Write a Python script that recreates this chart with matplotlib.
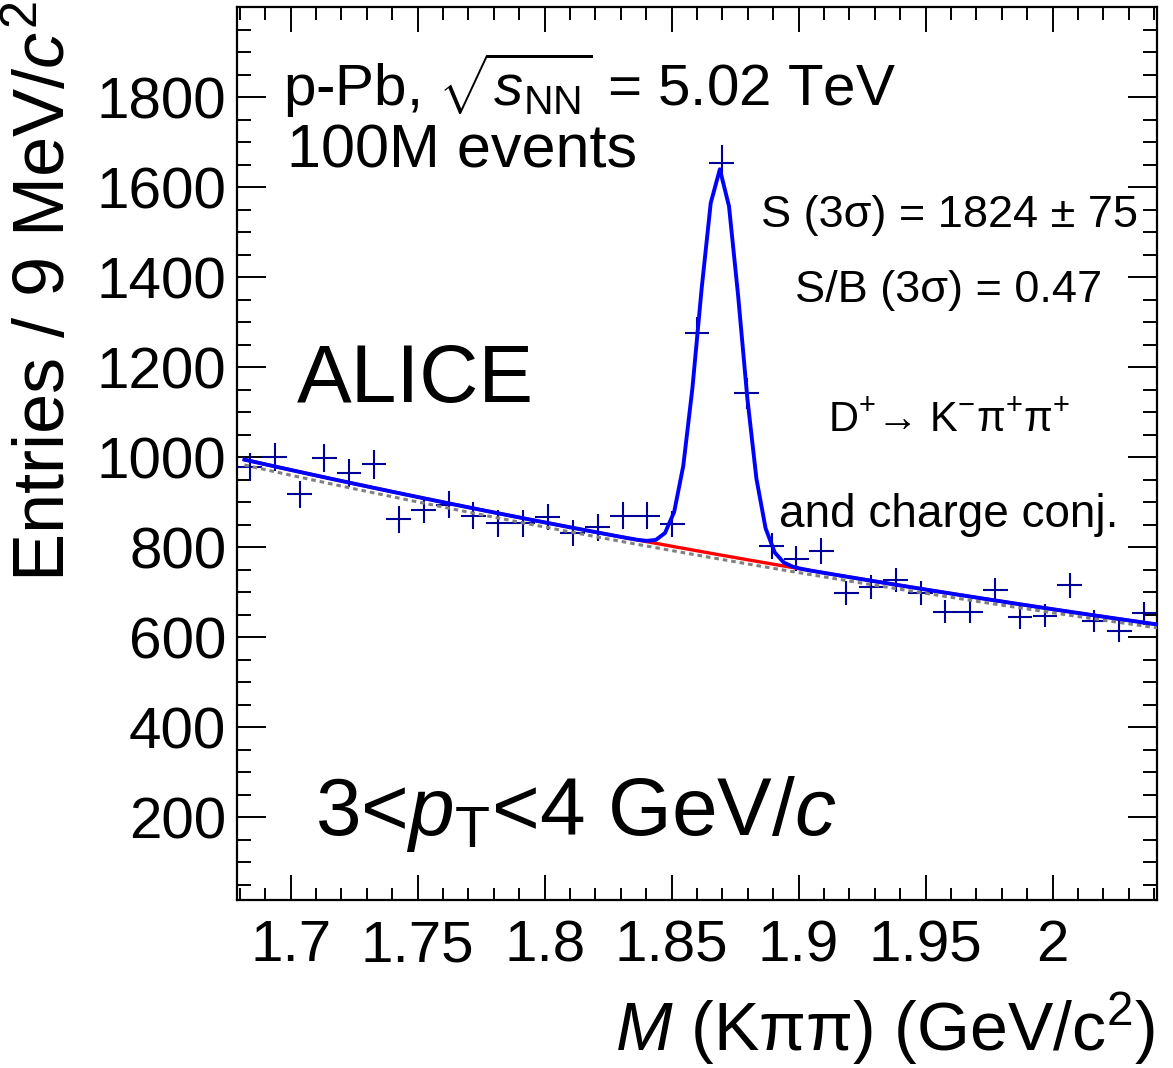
import numpy as np
import matplotlib
matplotlib.use("Agg")
import matplotlib.pyplot as plt
from matplotlib.ticker import MultipleLocator, FixedLocator, FuncFormatter

plt.rcParams["font.family"] = ["Liberation Sans", "DejaVu Sans"]
plt.rcParams["mathtext.fontset"] = "custom"
plt.rcParams["mathtext.rm"] = "Liberation Sans"
plt.rcParams["mathtext.it"] = "Liberation Sans:italic"
plt.rcParams["mathtext.bf"] = "Liberation Sans:bold"

# K pi pi invariant mass spectrum, 3 < pT < 4 GeV/c
mass = [1.6839, 1.6937, 1.7035, 1.7132, 1.7230, 1.7328, 1.7426, 1.7524,
        1.7622, 1.7719, 1.7817, 1.7915, 1.8013, 1.8111, 1.8209, 1.8307,
        1.8404, 1.8502, 1.8600, 1.8698, 1.8796, 1.8894, 1.8991, 1.9089,
        1.9187, 1.9285, 1.9383, 1.9481, 1.9578, 1.9676, 1.9774, 1.9872,
        1.9970, 2.0068, 2.0165, 2.0263, 2.0361]
counts = [978, 1000, 918, 998, 964, 984, 862, 883,
          894, 870, 853, 853, 867, 831, 844, 870,
          870, 851, 1277, 1653, 1142, 803, 774, 792,
          698, 712, 727, 698, 657, 657, 704, 644,
          648, 715, 636, 614, 653]
bin_width = 0.00978

# fit results: exponential background + gaussian signal
bkg_norm = 997.0      # background at m = 1.68
bkg_slope = 1.278
bkg_side_scale = 0.988  # sideband-only background estimate
sig_mean = 1.869
sig_sigma = 0.0082
sig_amp = 857.0
fit_step = 0.0036     # spacing of the points the fit function is drawn with

mass = np.array(mass)
counts = np.array(counts, dtype=float)


def background(m):
    return bkg_norm * np.exp(-bkg_slope * (m - 1.68))


def total(m):
    return background(m) + sig_amp * np.exp(-0.5 * ((m - sig_mean) / sig_sigma) ** 2)


W, H = 1173, 1068
fig = plt.figure(figsize=(W / 100, H / 100), dpi=100)
ax = fig.add_axes([237.3 / W, 1 - 900 / H, (1156.7 - 237.3) / W, (900 - 7.3) / H])

ax.errorbar(mass, counts, xerr=bin_width / 2, yerr=np.sqrt(counts),
            fmt="none", ecolor="#000099", elinewidth=1.5, capsize=0, zorder=2)

m_fit = sig_mean + fit_step * np.arange(-52, 49)
ax.plot(m_fit, bkg_side_scale * background(m_fit), color="#808080", lw=2.2,
        ls=(0, (1.5, 1.3)), zorder=3)
ax.plot(m_fit, background(m_fit), color="#ff0000", lw=2.4, zorder=4)
ax.plot(m_fit, total(m_fit), color="#0000ff", lw=2.8, zorder=5)

ax.set_xlim(1.679, 2.041)
ax.set_ylim(16, 2000)

ax.xaxis.set_major_locator(MultipleLocator(0.05))
ax.xaxis.set_minor_locator(MultipleLocator(0.01))
ax.xaxis.set_major_formatter(FuncFormatter(lambda v, p: "%g" % round(v, 3)))
ax.yaxis.set_major_locator(FixedLocator(np.arange(200, 1801, 200)))
ax.yaxis.set_minor_locator(MultipleLocator(50))

ax.tick_params(which="both", direction="in", top=True, right=True, width=1.4,
               labelsize=42)
ax.tick_params(axis="x", which="major", length=18, pad=14)
ax.tick_params(axis="x", which="minor", length=9)
ax.tick_params(axis="y", which="major", length=21, pad=8)
ax.tick_params(axis="y", which="minor", length=10)
for s in ax.spines.values():
    s.set_linewidth(1.6)


def fpos(x, y):
    return x / W, 1 - y / H


fig.text(*fpos(1155, 1051), r"$M$ (Kππ) (GeV/c$^{2}$)", fontsize=49,
         ha="right", va="baseline")
fig.text(*fpos(45, 1), r"Entries / 9 MeV/$c^{2}$", fontsize=52,
         rotation=90, ha="center", va="top")

fig.text(*fpos(283, 106), r"p-Pb, $\sqrt{s_{\rm NN}}$ = 5.02 TeV", fontsize=42,
         ha="left", va="baseline")
fig.text(*fpos(287, 167), "100M events", fontsize=44, ha="left", va="baseline")
fig.text(*fpos(297, 402), "ALICE", fontsize=59, ha="left", va="baseline")
fig.text(*fpos(315, 835), r"3<$p_{\rm T}$<4 GeV/$c$", fontsize=59,
         ha="left", va="baseline")

fig.text(*fpos(1138, 227), "S (3σ) = 1824 ± 75", fontsize=32.5,
         ha="right", va="baseline")
fig.text(*fpos(949, 302), "S/B (3σ) = 0.47", fontsize=32.5,
         ha="center", va="baseline")
fig.text(*fpos(949, 432), r"D$^{+}$→ K$^{-}$π$^{+}$π$^{+}$", fontsize=30,
         ha="center", va="baseline")
fig.text(*fpos(949, 527), "and charge conj.", fontsize=33,
         ha="center", va="baseline")

fig.savefig("out.png", dpi=100)
